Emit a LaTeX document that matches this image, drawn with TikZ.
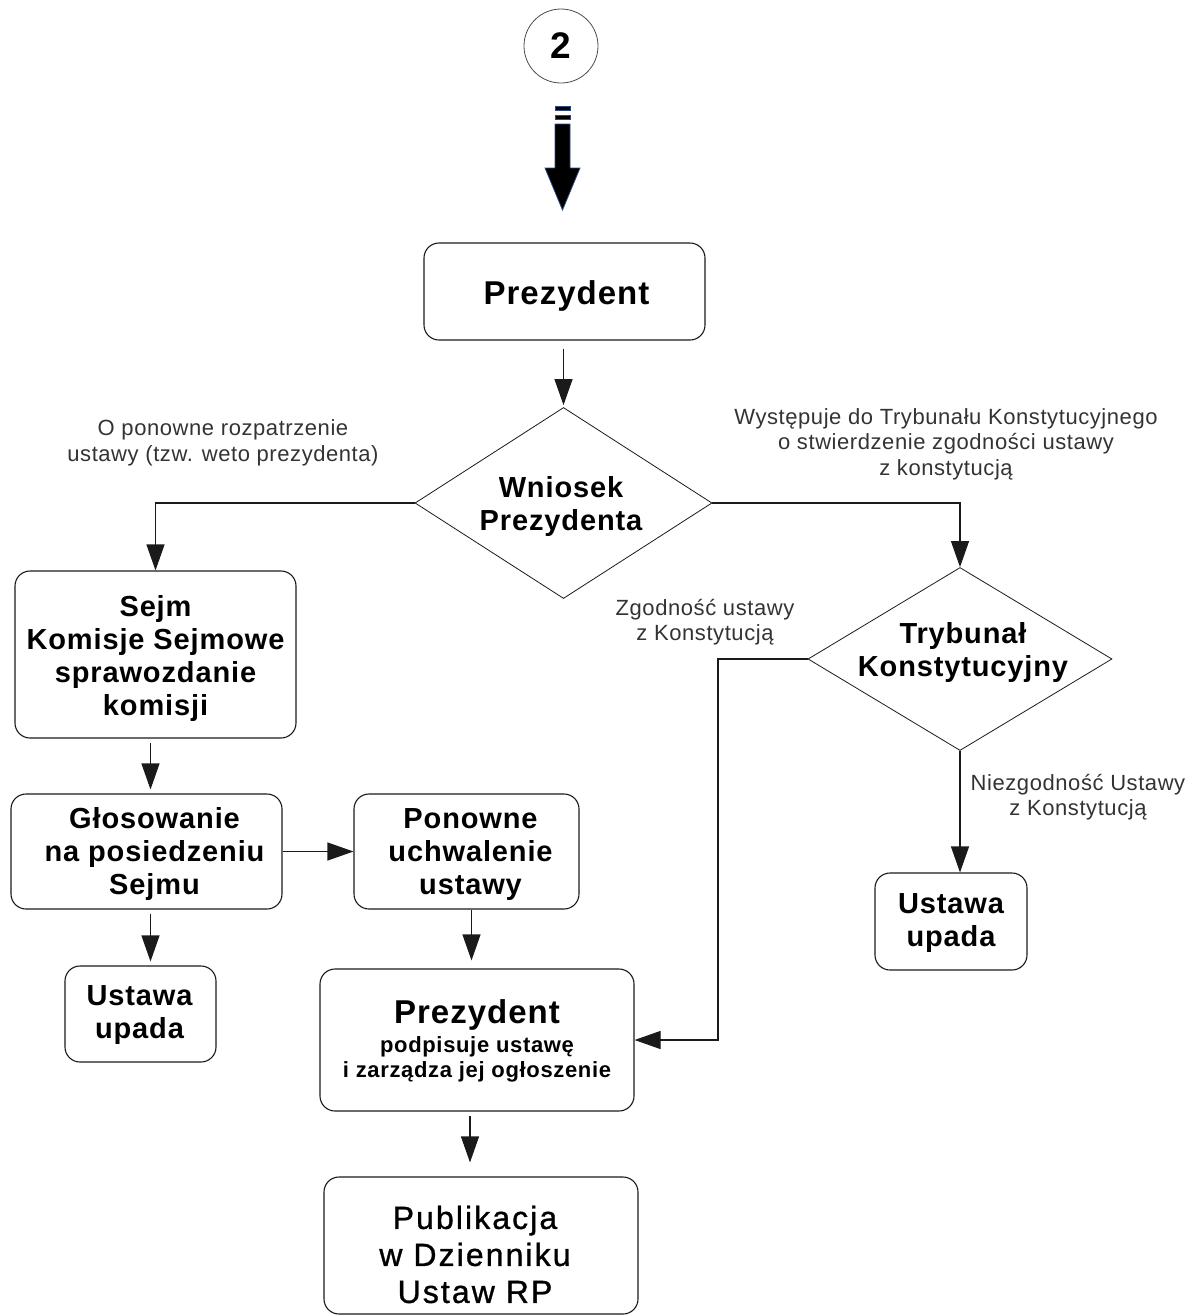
\documentclass[tikz,border=0pt]{standalone}
\usepackage{fontspec}
\setmainfont{Liberation Sans}
\newfontfamily\boxfont[LetterSpace=3]{Liberation Sans}
\newfontfamily\notefont[LetterSpace=2.6]{Liberation Sans}
\newfontfamily\pubfont[LetterSpace=6.5, FakeBold=1]{Liberation Sans}
\usetikzlibrary{shapes.geometric,arrows.meta,calc}
\definecolor{txtgray}{HTML}{333333}
\definecolor{linegray}{HTML}{1A1A1A}
\definecolor{arrowblue}{HTML}{2A4A80}
% centred lines of text, moved right by #1 and down by #2 without changing the box size
\newcommand\lines[3]{\raisebox{-#2}[\height][\depth]{\hspace*{#1}%
  \begin{tabular}{@{}c@{}}#3\end{tabular}\hspace*{-#1}}}
\begin{document}
\begin{tikzpicture}[x=1pt,y=-1pt,
  box/.style={draw=linegray, line width=1.1pt, rounded corners=15pt, align=center,
    inner sep=0pt, font=\boxfont\bfseries\fontsize{29}{33}\selectfont},
  decision/.style={draw=linegray, line width=0.8pt, diamond, inner sep=0pt},
  dtext/.style={align=center, inner sep=0pt, font=\boxfont\bfseries\fontsize{29}{33}\selectfont},
  note/.style={align=center, inner sep=0pt, text=txtgray, font=\notefont\fontsize{22}{25.5}\selectfont},
  arr/.style={draw=linegray, line width=1.1pt, -{Triangle[length=26pt,width=18pt]}},
  ln/.style={draw=linegray, line width=1.1pt}]
\useasboundingbox (0,0) rectangle (1190,1315);

% step number
\node[draw=black!70, line width=0.8pt, circle, minimum size=74pt, inner sep=0pt,
  font=\bfseries\fontsize{37}{37}\selectfont] (num) at (561,46) {2};

% large downward arrow below the step number
\begin{scope}[fill=black, draw=arrowblue, line width=0.8pt]
  \filldraw (555,106) rectangle (570,110);
  \filldraw (555,115) rectangle (570,119);
  \filldraw (555,124) -- (570,124) -- (570,168) -- (580,168) -- (562.5,210)
    -- (545,168) -- (555,168) -- cycle;
\end{scope}

% nodes
\node[box, minimum width=281pt, minimum height=97pt,
  font=\boxfont\bfseries\fontsize{33}{36}\selectfont] (prez1) at (564.5,291.5)
  {\lines{2pt}{6pt}{Prezydent}};

\node[decision, minimum width=297pt, minimum height=191pt] (wn) at (563.5,503) {};
\node[dtext] (wnt) at (561,506) {Wniosek\\Prezydenta};

\node[box, minimum width=281pt, minimum height=167pt] (sejm) at (155.5,654.5)
  {\lines{0pt}{5pt}{Sejm\\Komisje Sejmowe\\sprawozdanie\\komisji}};

\node[decision, minimum width=304pt, minimum height=183pt] (tk) at (960,659) {};
\node[dtext] (tkt) at (963,652) {Trybunał\\Konstytucyjny};

\node[box, minimum width=271pt, minimum height=115pt] (gl) at (146.5,851.5)
  {\lines{8pt}{3pt}{Głosowanie\\na posiedzeniu\\Sejmu}};
\node[box, minimum width=225pt, minimum height=115pt] (pon) at (466.5,851.5)
  {\lines{4pt}{3pt}{Ponowne\\uchwalenie\\ustawy}};

\node[box, minimum width=151pt, minimum height=96pt] (uu1) at (140.5,1014)
  {\lines{-1pt}{1pt}{Ustawa\\upada}};
\node[box, minimum width=152pt, minimum height=97pt] (uu2) at (951,921.5)
  {\lines{0pt}{2pt}{Ustawa\\upada}};

\node[box, minimum width=314pt, minimum height=142pt] (prez2) at (477,1040)
  {\lines{0pt}{3pt}{{\fontsize{33}{36}\selectfont Prezydent}\\[-4pt]
   {\fontsize{22}{25}\selectfont podpisuje ustawę}\\[-8pt]
   {\fontsize{22}{25}\selectfont i zarządza jej ogłoszenie}}};

\node[box, minimum width=314pt, minimum height=137pt,
  font=\pubfont\fontsize{32}{37}\selectfont] (pub) at (481,1245.5)
  {\lines{-6pt}{13pt}{Publikacja\\w Dzienniku\\Ustaw RP}};

% branch notes
\node[note] (n1) at (223,443) {O ponowne rozpatrzenie\\ustawy (tzw. weto prezydenta)};
\node[note] (n2) at (946,444) {Występuje do Trybunału Konstytucyjnego\\o stwierdzenie zgodności ustawy\\z konstytucją};
\node[note] (n3) at (705,622) {Zgodność ustawy\\z Konstytucją};
\node[note] (n4) at (1078,797) {Niezgodność Ustawy\\z Konstytucją};

% connectors
\draw[arr, shorten <=8pt, shorten >=2pt] (prez1.south -| wn.north) -- (wn.north);
\draw[arr] (wn.west) -| (sejm.north);
\draw[arr] (wn.east) -| (tk.north);
\draw[arr] (tk.south) -- (tk.south |- uu2.north);
\coordinate (tkbend) at (718,659);
\draw[arr] (tk.west) -- (tkbend) |- (prez2.east);
\draw[arr, shorten <=4pt, shorten >=4pt] ([xshift=-5pt]sejm.south) -- ([xshift=-5pt]sejm.south |- gl.north);
\draw[arr, shorten <=4pt, shorten >=4pt] ([xshift=4pt]gl.south) -- ([xshift=4pt]gl.south |- uu1.north);
\draw[arr] (gl.east) -- (pon.west);
\draw[arr, shorten >=8pt] ([xshift=5pt]pon.south) -- ([xshift=5pt]pon.south |- prez2.north);
\draw[arr, shorten <=4pt, shorten >=14pt] ([xshift=-7pt]prez2.south) -- ([xshift=-7pt]prez2.south |- pub.north);
\end{tikzpicture}
\end{document}
